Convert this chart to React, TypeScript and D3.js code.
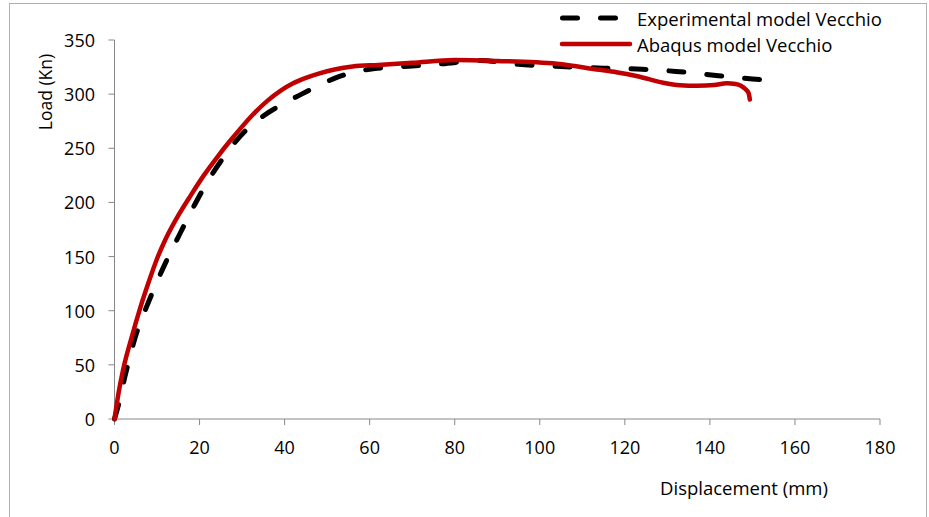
import React from "react";
import * as d3 from "d3";

// Load–displacement curves (displacement mm, load kN)
const experimentalX = [0, 1, 2.5, 5, 8, 11.5, 15.5, 19, 22, 25, 28, 31, 34, 37, 40, 44, 48, 52, 56, 60, 65, 70, 77, 86, 95, 105, 115, 124, 132, 142, 150, 153];
const experimentalY = [0, 14, 40, 77, 108, 140, 172, 199, 220, 238, 254, 267, 277, 285, 292, 300, 308, 315, 320, 323, 325, 326, 328, 331, 327.5, 325.5, 324, 323, 321, 317, 314, 313];

const abaqusX = [0, 1, 2, 4, 6, 8, 10, 12, 15, 18, 21, 24, 27, 30, 33, 36, 39, 42, 45, 48, 52, 56, 62, 70, 80, 90, 104, 114, 118, 123, 129, 133, 137, 141, 144, 146, 148.4, 149.1, 149.4];
const abaqusY = [0, 25, 45, 75, 102, 126, 148, 166, 188, 207, 225, 241, 256, 270, 283, 294, 303, 310, 315, 319, 323, 325.5, 327, 329, 331.5, 330.6, 328, 322.5, 320.3, 316.5, 310.6, 308.3, 307.8, 308.5, 310, 309.4, 304.5, 301, 295];

const xTicks = [0, 20, 40, 60, 80, 100, 120, 140, 160, 180];
const yTicks = [0, 50, 100, 150, 200, 250, 300, 350];

const seriesNames = ["Experimental model Vecchio", "Abaqus model Vecchio"];

const W = 929;
const H = 517;
const FONT = "'Open Sans', 'Noto Sans', sans-serif";

export default function App() {
  const x = d3.scaleLinear().domain([0, 180]).range([114.5, 880]);
  const y = d3.scaleLinear().domain([0, 350]).range([419, 40]);

  const line = d3
    .line<[number, number]>()
    .x((d) => x(d[0]))
    .y((d) => y(d[1]))
    .curve(d3.curveMonotoneX);

  const expPts = experimentalX.map((v, i) => [v, experimentalY[i]] as [number, number]);
  const abqPts = abaqusX.map((v, i) => [v, abaqusY[i]] as [number, number]);

  const axisColor = "#878787";

  return (
    <svg
      width={W}
      height={H}
      style={{ position: "absolute", left: 0, top: 0, background: "#fff" }}
    >
      {/* chart frame */}
      <rect x={9.5} y={3.5} width={917} height={530} fill="#fff" stroke="#b0b0b0" strokeWidth={1} />

      {/* y axis */}
      <line x1={x(0)} x2={x(0)} y1={y(350)} y2={y(0)} stroke={axisColor} strokeWidth={1} />
      {yTicks.map((t) => (
        <g key={"y" + t}>
          <line x1={x(0) - 6} x2={x(0)} y1={y(t)} y2={y(t)} stroke={axisColor} strokeWidth={1} />
          <text
            x={95}
            y={y(t)}
            textAnchor="end"
            dominantBaseline="central"
            fontFamily={FONT}
            fontSize={18}
            fill="#000"
          >
            {t}
          </text>
        </g>
      ))}

      {/* x axis */}
      <line x1={x(0)} x2={x(180)} y1={y(0)} y2={y(0)} stroke={axisColor} strokeWidth={1} />
      {xTicks.map((t) => (
        <g key={"x" + t}>
          <line x1={x(t)} x2={x(t)} y1={y(0)} y2={y(0) + 6} stroke={axisColor} strokeWidth={1} />
          <text
            x={x(t)}
            y={446.5}
            textAnchor="middle"
            dominantBaseline="central"
            fontFamily={FONT}
            fontSize={18}
            fill="#000"
          >
            {t}
          </text>
        </g>
      ))}

      {/* axis titles */}
      <text
        transform="translate(45,92) rotate(-90)"
        textAnchor="middle"
        dominantBaseline="central"
        fontFamily={FONT}
        fontSize={17.5}
        fill="#000"
      >
        Load (Kn)
      </text>
      <text
        x={744}
        y={487}
        textAnchor="middle"
        dominantBaseline="central"
        fontFamily={FONT}
        fontSize={18.5}
        fill="#000"
      >
        Displacement (mm)
      </text>

      {/* series */}
      <path
        d={line(expPts) || ""}
        fill="none"
        stroke="#000"
        strokeWidth={5}
        strokeDasharray="15,23"
        strokeLinecap="round"
      />
      <path
        d={line(abqPts) || ""}
        fill="none"
        stroke="#C00000"
        strokeWidth={4.5}
        strokeLinecap="round"
        strokeLinejoin="round"
      />

      {/* legend */}
      <line
        x1={562.5}
        x2={615.5}
        y1={18}
        y2={18}
        stroke="#000"
        strokeWidth={5}
        strokeDasharray="15,23"
        strokeLinecap="round"
      />
      <text x={637} y={18} dominantBaseline="central" fontFamily={FONT} fontSize={18.5} fill="#000">
        {seriesNames[0]}
      </text>
      <line x1={562} x2={630} y1={44} y2={44} stroke="#C00000" strokeWidth={4.5} strokeLinecap="round" />
      <text x={637} y={44} dominantBaseline="central" fontFamily={FONT} fontSize={18.5} fill="#000">
        {seriesNames[1]}
      </text>
    </svg>
  );
}
